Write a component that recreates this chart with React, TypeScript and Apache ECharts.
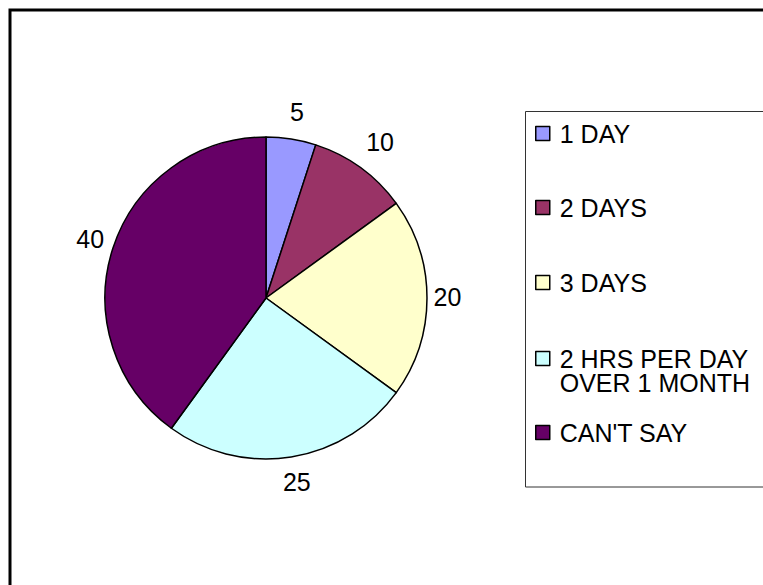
import React, { useEffect, useRef } from "react";
import * as echarts from "echarts";

const categories = ["1 DAY", "2 DAYS", "3 DAYS", "2 HRS PER DAY\nOVER 1 MONTH", "CAN'T SAY"];
const values = [5, 10, 20, 25, 40];
const colors = ["#9999FF", "#993366", "#FFFFCC", "#CCFFFF", "#660066"];
const legendTops = [121, 195, 270, 322, 420];

const FONT = "'Liberation Sans', Arial, sans-serif";
const CX = 266;
const CY = 298;
const R = 161;

export default function App() {
  const ref = useRef<HTMLDivElement>(null);
  useEffect(() => {
    document.body.style.margin = "0";
    if (!ref.current) return;
    const chart = echarts.init(ref.current, null, { renderer: "svg" });
    const total = values.reduce((a, b) => a + b, 0);
    const mids: number[] = [];
    let acc = 0;
    values.forEach((v) => {
      mids.push(((acc + v / 2) / total) * Math.PI * 2);
      acc += v;
    });
    const legends = categories.map((name, i) => ({
      data: [name],
      orient: "vertical",
      left: 535,
      top: legendTops[i],
      padding: 0,
      itemGap: 0,
      itemWidth: 14,
      itemHeight: 14,
      icon: "rect",
      selectedMode: false,
      formatter: (n: string) => (n.indexOf("\n") >= 0 ? "\n" + n : n),
      itemStyle: { borderColor: "#000", borderWidth: 1.5 },
      textStyle: {
        fontSize: 25,
        fontFamily: FONT,
        color: "#000",
        lineHeight: 24,
        padding: [0, 0, 0, 5],
      },
    }));
    chart.setOption({
      animation: false,
      backgroundColor: "#fff",
      legend: legends,
      graphic: [
        {
          type: "rect",
          shape: { x: 10, y: 10, width: 800, height: 600 },
          style: { fill: "none", stroke: "#000", lineWidth: 3 },
          silent: true,
        },
        {
          type: "rect",
          shape: { x: 525.5, y: 111.5, width: 300, height: 375.5 },
          style: { fill: "none", stroke: "#333", lineWidth: 1 },
          silent: true,
        },
      ],
      series: [
        {
          type: "pie",
          center: [CX, CY],
          radius: R,
          startAngle: 90,
          clockwise: true,
          avoidLabelOverlap: false,
          data: categories.map((name, i) => ({
            name,
            value: values[i],
            itemStyle: { color: colors[i] },
          })),
          itemStyle: { borderColor: "#000", borderWidth: 1.5 },
          label: {
            show: true,
            position: "outside",
            formatter: "{c}",
            fontSize: 25,
            fontFamily: FONT,
            color: "#000",
          },
          labelLine: { show: false },
          labelLayout: (params: any) => {
            const t = mids[params.dataIndex];
            const d = R + 24 * Math.abs(Math.cos(t)) + 19 * Math.abs(Math.sin(t));
            return {
              x: CX + 1.5 + d * Math.sin(t),
              y: CY - 1 - d * Math.cos(t),
              align: "center",
              verticalAlign: "middle",
            };
          },
          emphasis: { disabled: true },
        },
      ],
    });
    return () => chart.dispose();
  }, []);
  return <div ref={ref} style={{ width: 763, height: 585 }} />;
}
